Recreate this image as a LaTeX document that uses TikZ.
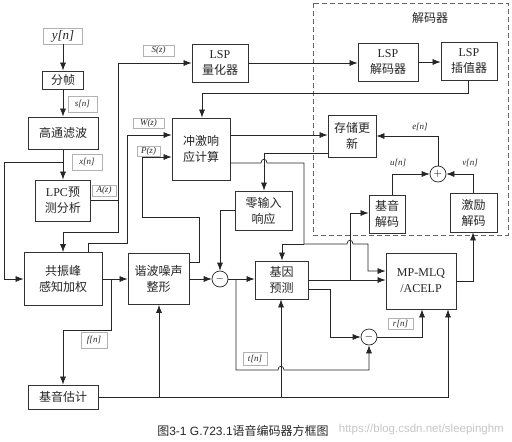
\documentclass[tikz,border=0pt]{standalone}
\usepackage{fontspec}
\setmainfont{Liberation Serif}
\newfontfamily\cjk{Noto Sans CJK SC}
\newfontfamily\latsans{Liberation Sans}
\usetikzlibrary{arrows.meta}
\begin{document}
\begin{tikzpicture}[x=1pt,y=-1pt,
  box/.style={draw=black!80,line width=0.8pt,inner sep=0pt,align=center,text=black!85,
    font=\cjk\fontsize{12}{16}\selectfont},
  lbl/.style={draw=black!30,line width=0.5pt,inner sep=0pt,text=black!85,
    font=\itshape\fontsize{9}{10}\selectfont},
  plain/.style={inner sep=0pt,text=black!85,font=\itshape\fontsize{9}{10}\selectfont},
  sumc/.style={circle,draw=black!85,line width=0.7pt,minimum size=16,inner sep=0pt,
    font=\fontsize{11}{11}\selectfont},
  ln/.style={draw=black!85,line width=0.7pt},
  arr/.style={ln,-{Latex[length=8pt,width=6pt]}}]
\useasboundingbox (0,0) rectangle (512,442);
\fill[white] (0,0) rectangle (512,442);
% decoder frame
\draw[black!60,line width=0.8pt,dash pattern=on 5pt off 3pt] (313,3) rectangle (508,235);
\node[box,draw=none] (dec) at (430,18) {解码器};
% boxes
\node[lbl,minimum width=39,minimum height=16,font=\itshape\fontsize{13}{13}\selectfont] (yn) at (63,36) {y[n]};
\node[box,minimum width=41,minimum height=18] (fz) at (63,80) {分帧};
\node[box,minimum width=70,minimum height=32] (gt) at (63,133) {高通滤波};
\node[box,minimum width=55,minimum height=41] (lpc) at (63,200.5) {{\rmfamily LPC}预\\测分析};
\node[box,minimum width=78,minimum height=53] (gzf) at (63,279) {共振峰\\感知加权};
\node[box,minimum width=70,minimum height=24] (jyg) at (63,397) {基音估计};
\node[box,minimum width=61,minimum height=51] (xb) at (158.5,279) {谐波噪声\\整形};
\node[box,minimum width=56,minimum height=38] (lspq) at (220,63) {{\rmfamily LSP}\\量化器};
\node[box,minimum width=58,minimum height=62] (cj) at (201,149) {冲激响\\应计算};
\node[box,minimum width=57,minimum height=39] (lx) at (263.5,210.5) {零输入\\响应};
\node[sumc] (c1) at (220,279) {$-$};
\node[box,minimum width=53,minimum height=38] (jy) at (281.5,280) {基因\\预测};
\node[sumc] (c2) at (369,337) {$-$};
\node[box,minimum width=70,minimum height=56,font=\rmfamily\fontsize{12}{16}\selectfont] (mp) at (421,281) {MP-MLQ\\/ACELP};
\node[box,minimum width=60,minimum height=38] (lspd) at (388,62) {{\rmfamily LSP}\\解码器};
\node[box,minimum width=56,minimum height=38] (lspi) at (469,61) {{\rmfamily LSP}\\插值器};
\node[box,minimum width=48,minimum height=42] (cc) at (352,136) {存储更\\新};
\node[sumc] (c3) at (438,174) {$+$};
\node[box,minimum width=36,minimum height=38] (jyd) at (387,214) {基音\\解码};
\node[box,minimum width=47,minimum height=39] (jld) at (473.5,212.5) {激励\\解码};
% labels
\node[lbl,minimum width=31,minimum height=11] (lS) at (158.5,50.5) {S(z)};
\node[lbl,minimum width=29,minimum height=16] (ls) at (82.5,104) {s[n]};
\node[lbl,minimum width=30,minimum height=16] (lx2) at (87,162) {x[n]};
\node[lbl,minimum width=24,minimum height=11] (lA) at (104,190.5) {A(z)};
\node[lbl,minimum width=31,minimum height=10] (lW) at (148.5,123) {W(z)};
\node[lbl,minimum width=23,minimum height=10] (lP) at (148.5,151) {P(z)};
\node[lbl,minimum width=26,minimum height=16] (lf) at (94,340) {f[n]};
\node[lbl,minimum width=24,minimum height=13] (lt) at (255,358.5) {t[n]};
\node[lbl,minimum width=25,minimum height=11] (lr) at (400.5,323.5) {r[n]};
\node[plain] (le) at (420,127) {e[n]};
\node[plain] (lu) at (398,163) {u[n]};
\node[plain] (lv) at (470,163) {v[n]};
% junction coordinates
\coordinate (j1) at (63,162);
\coordinate (j2) at (118,200);
\coordinate (j3) at (111,279);
\coordinate (j4) at (236,279);
\coordinate (j5) at (350,280);
\coordinate (j6) at (159,397);
\coordinate (j7) at (281,397);
\coordinate (j8) at (304,244);
% connectors
\draw[arr] (yn) -- (fz);
\draw[arr] (fz) -- (gt);
\draw[arr] (gt) -- (lpc);
\draw[arr] (j1) -- (4,162) |- (gzf.west);
\draw[ln] (lpc.east |- 0,200) -- (j2);
\draw[arr] (j2) |- (lspq.west);
\draw[arr] (j2) -- (118,232) -| (gzf.north);
\draw[arr] (gzf.north -| 88,0) -- (88,243) -- (127,243) |- (cj.west |- 0,135);
\draw[arr] (xb.east |- 0,262) -- (199,262) -- (199,217) -- (142,217) |- (cj.west |- 0,157);
\draw[arr] (gzf.east) -- (xb.west);
\draw[arr] (j3) -- (111,330) -| (jyg.north);
\draw[arr] (xb.east) -- (c1.west);
\draw[arr] (lx.west) -| (c1.north);
\draw[arr] (c1.east) -- (jy.west |- c1.east);
\draw[arr] (j4) -- (236,370) -- (278,370) .. controls (278,365) and (284,365) .. (284,370) -| (c2.south);
\draw[arr] (jy.east |- 0,280) -- (mp.west |- 0,280);
\draw[arr] (j5) |- (jyd.west |- 0,213);
\draw[arr] (jy.east |- 0,289) -- (330,289) |- (c2.west);
\draw[arr] (c2.east) -| (mp.south -| 422,0);
\draw[arr] (jyg.east) -- (448,397) -- (mp.south -| 448,0);
\draw[arr] (j6) -- (xb.south -| j6);
\draw[arr] (j7) -- (jy.south -| j7);
\draw[arr] (lspq.east) -- (lspd.west |- lspq.east);
\draw[arr] (lspd.east) -- (lspi.west |- lspd.east);
\draw[arr] (lspi.south -| 468,0) -- (468,93) -| (cj.north -| 202,0);
\draw[arr] (cj.east |- 0,135) -- (cc.west |- 0,135);
\draw[arr] (cc.west |- 0,153) -- (264,153) -- (lx.north -| 264,0);
\draw[ln] (cj.east |- 0,163) -- (261,163) .. controls (261,158) and (267,158) .. (267,163) -- (304,163) -- (j8);
\draw[arr] (j8) -| (jy.north -| 282,0);
\draw[arr] (j8) -- (347,244) .. controls (347,239) and (353,239) .. (353,244) -- (368,244) -- (368,271) -- (mp.west |- 0,271);
\draw[arr] (mp.east |- 0,281) -- (473,281) -- (jld.south -| 473,0);
\draw[arr] (jld.north -| 473,0) |- (c3.east);
\draw[arr] (jyd.north -| 392,0) |- (c3.west);
\draw[arr] (c3.north) |- (cc.east |- 0,136);
% caption and watermark
\node[inner sep=0pt,anchor=east,text=black!22,font=\latsans\fontsize{11.5}{12}\selectfont] (wm) at (504,430) {https://blog.csdn.net/sleepinghm};
\node[inner sep=0pt,text=black!85,font=\cjk\fontsize{12}{14}\selectfont] (cap) at (243,431) {图{\latsans 3-1 G.723.1}语音编码器方框图};
\end{tikzpicture}
\end{document}
